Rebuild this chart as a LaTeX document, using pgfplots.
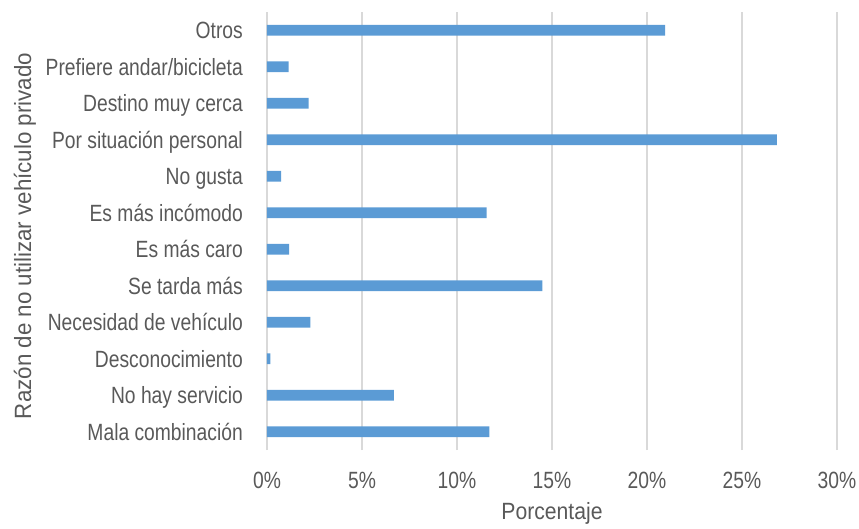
\documentclass[border=0pt]{standalone}
\usepackage{fontspec}
\setmainfont{Liberation Sans}[FakeStretch=0.82]
\newfontfamily\xlabfont{Liberation Sans}[FakeStretch=0.90]
\newfontfamily\ylabfont{Liberation Sans}[FakeStretch=0.95]
\usepackage{pgfplots}
\pgfplotsset{compat=1.18}
\definecolor{txt}{HTML}{595959}
\definecolor{gridc}{HTML}{D9D9D9}
\definecolor{barc}{HTML}{5B9BD5}
\begin{document}
\fontsize{23.5}{28}\selectfont
\begin{tikzpicture}
\begin{axis}[
  name=ax,
  scale only axis, width=570pt, height=438pt,
  xbar, bar width=0.3,
  xmin=0, xmax=30, ymin=-0.5, ymax=11.5,
  axis line style={draw=none},
  major tick length=0pt,
  xmajorgrids, grid style={gridc, line width=1.6pt},
  xtick={0,5,...,30},
  xticklabels={0\%,5\%,10\%,15\%,20\%,25\%,30\%},
  ytick={0,...,11},
  yticklabels={Mala combinación,No hay servicio,Desconocimiento,Necesidad de vehículo,Se tarda más,Es más caro,Es más incómodo,No gusta,Por situación personal,Destino muy cerca,Prefiere andar/bicicleta,Otros},
  /pgf/number format/assume math mode=true,
  tick label style={font=\fontsize{23.5}{28}\selectfont, text=txt},
  xticklabel style={anchor=base, yshift=-38pt},
  yticklabel style={anchor=base east, inner sep=0pt, xshift=-24pt, yshift=-8.4pt},
  xlabel={Porcentaje},
  ylabel={Razón de no utilizar vehículo privado},
  xlabel style={font=\xlabfont\fontsize{23.5}{28}\selectfont, text=txt,
    at={(axis description cs:0.5,-0.1598)}, anchor=base},
  ylabel style={font=\ylabfont\fontsize{23.5}{28}\selectfont, text=txt,
    at={(axis description cs:-0.414,0.4886)}, anchor=base},
]
\addplot[fill=barc, draw=none] coordinates {
  (11.70,0) (6.68,1) (0.18,2) (2.28,3) (14.49,4) (1.17,5)
  (11.56,6) (0.74,7) (26.84,8) (2.19,9) (1.14,10) (20.95,11)
};
\end{axis}
\pgfresetboundingbox
\path[use as bounding box] ([xshift=-267pt,yshift=-78pt]ax.south west) rectangle ([xshift=22pt,yshift=12pt]ax.north east);
\end{tikzpicture}
\end{document}
